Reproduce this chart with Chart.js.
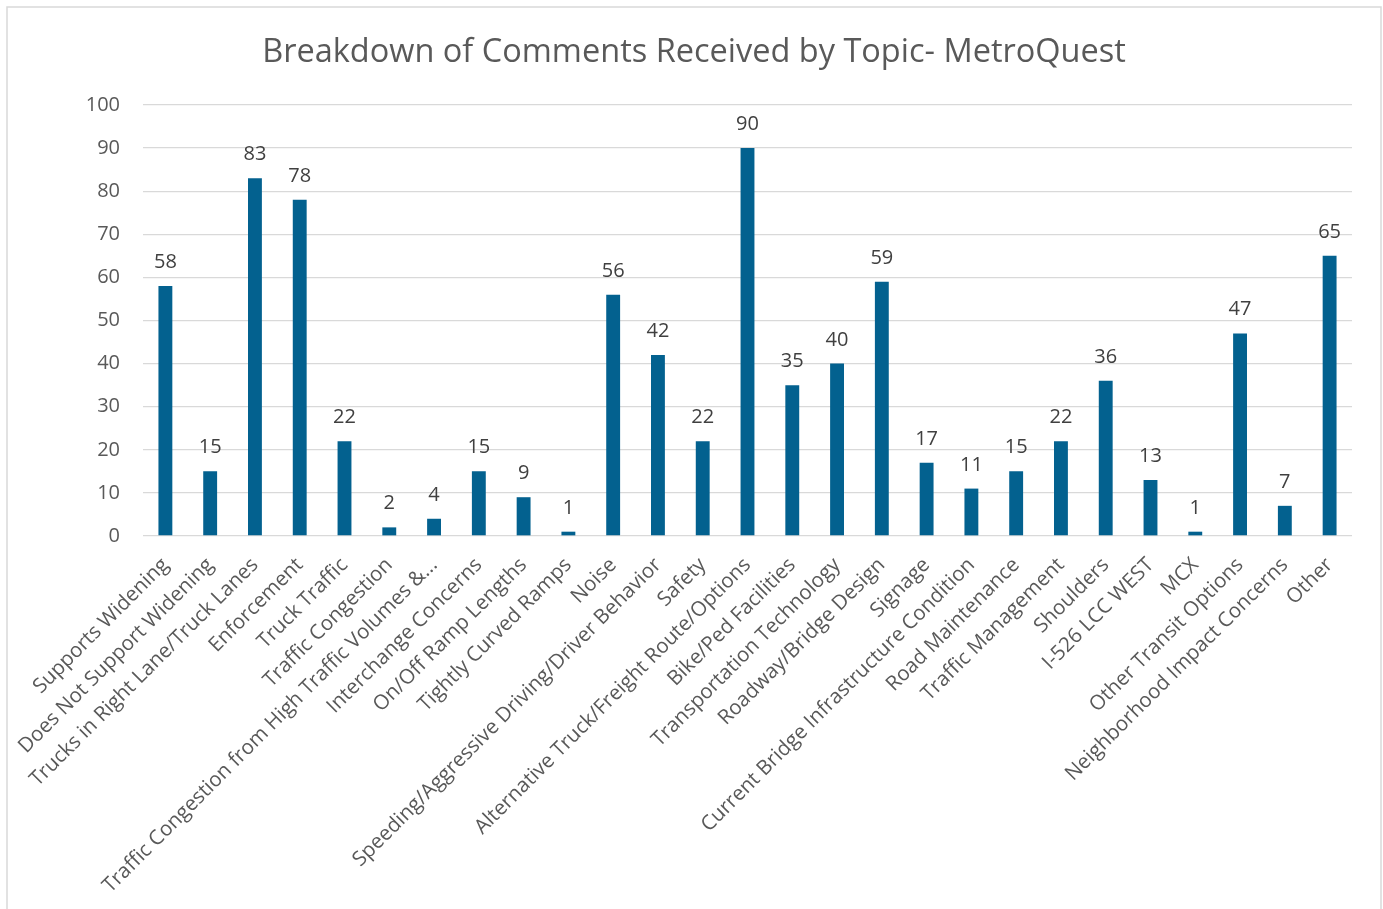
<!DOCTYPE html>
<html>
<head>
<meta charset="utf-8">
<script src="https://cdn.jsdelivr.net/npm/chart.js@4"></script>
<style>
  html, body { margin: 0; padding: 0; background: #fff; }
  #wrap { position: relative; width: 1383px; height: 909px; }
</style>
</head>
<body>
<div id="wrap"><canvas id="topicChart" width="1383" height="909"></canvas></div>
<script>
// ---------------- data ----------------
const topics = [
  'Supports Widening', 'Does Not Support Widening', 'Trucks in Right Lane/Truck Lanes',
  'Enforcement', 'Truck Traffic', 'Traffic Congestion',
  'Traffic Congestion from High Traffic Volumes &...', 'Interchange Concerns',
  'On/Off Ramp Lengths', 'Tightly Curved Ramps', 'Noise',
  'Speeding/Aggressive Driving/Driver Behavior', 'Safety',
  'Alternative Truck/Freight Route/Options', 'Bike/Ped Facilities',
  'Transportation Technology', 'Roadway/Bridge Design', 'Signage',
  'Current Bridge Infrastructure Condition', 'Road Maintenance',
  'Traffic Management', 'Shoulders', 'I-526 LCC WEST', 'MCX',
  'Other Transit Options', 'Neighborhood Impact Concerns', 'Other'
];
const commentCounts = [58, 15, 83, 78, 22, 2, 4, 15, 9, 1, 56, 42, 22, 90, 35, 40, 59, 17, 11, 15, 22, 36, 13, 1, 47, 7, 65];
const yTicks = [0, 10, 20, 30, 40, 50, 60, 70, 80, 90, 100];

const FONT = "'Open Sans', sans-serif";

// value labels above each bar
const barValues = {
  id: 'barValues',
  afterDatasetsDraw(chart) {
    const c = chart.ctx;
    const meta = chart.getDatasetMeta(0);
    c.save();
    c.font = "20px " + FONT;
    c.fillStyle = '#404040';
    c.textAlign = 'center';
    c.textBaseline = 'alphabetic';
    meta.data.forEach((bar, i) => {
      c.fillText(String(commentCounts[i]), bar.x, bar.y - 18);
    });
    c.restore();
  }
};

// thin frame round the chart
const frame = {
  id: 'frame',
  beforeDraw(chart) {
    const c = chart.ctx;
    c.save();
    c.strokeStyle = '#d9d9d9';
    c.lineWidth = 1.5;
    c.strokeRect(7, 7, 1374, 920);
    c.restore();
  }
};

const ctx = document.getElementById('topicChart').getContext('2d');
new Chart(ctx, {
  type: 'bar',
  data: {
    labels: topics,
    datasets: [{
      data: commentCounts,
      backgroundColor: '#03618f',
      barPercentage: 0.31,
      categoryPercentage: 1
    }]
  },
  options: {
    responsive: false,
    animation: false,
    layout: { padding: { left: 36, right: 31, top: 0, bottom: 0 } },
    plugins: {
      legend: { display: false },
      tooltip: { enabled: false },
      title: {
        display: true,
        text: 'Breakdown of Comments Received by Topic- MetroQuest',
        color: '#595959',
        font: { family: FONT, size: 32.5, weight: 'normal', lineHeight: 1.2 },
        padding: { top: 33, bottom: 33 }
      }
    },
    scales: {
      y: {
        min: 0,
        max: 100,
        afterBuildTicks(scale) { scale.ticks = yTicks.map(v => ({ value: v })); },
        afterFit(scale) { scale.width = 107; },
        border: { display: false },
        grid: { color: '#d9d9d9', lineWidth: 1.3, drawTicks: false },
        ticks: { color: '#595959', padding: 23, font: { family: FONT, size: 20 } }
      },
      x: {
        afterFit(scale) { scale.height = 373; },
        border: { display: false },
        grid: { display: false, drawTicks: false },
        ticks: {
          autoSkip: false,
          maxRotation: 45,
          minRotation: 45,
          padding: 17,
          color: '#595959',
          font: { family: FONT, size: 20.5 }
        }
      }
    }
  },
  plugins: [frame, barValues]
});
</script>
</body>
</html>
